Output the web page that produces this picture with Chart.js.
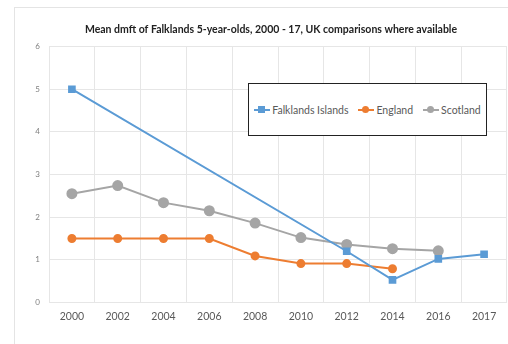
<!DOCTYPE html>
<html>
<head>
<meta charset="utf-8">
<script src="https://cdn.jsdelivr.net/npm/chart.js@4.4.1/dist/chart.umd.min.js"></script>
<style>
  html, body { margin: 0; padding: 0; background: #fff; overflow: hidden; }
  body { width: 508px; height: 344px; position: relative; font-family: Lato, "Open Sans", sans-serif; }
  #frame { position: absolute; left: 14px; top: 7px; width: 534px; height: 345px; border: 1px solid #e4e4e4; box-sizing: border-box; }
  #legend { position: absolute; left: 248px; top: 83px; width: 239px; height: 53px; border: 1.5px solid #222; box-sizing: border-box;
            display: flex; align-items: center; justify-content: center; gap: 10px; font-size: 10.5px; color: #595959; background: #fff; }
  .item { display: flex; align-items: center; }
  .sym { position: relative; width: 16px; height: 10px; margin-right: 2px; }
  .sym .ln { position: absolute; left: 0; right: 0; top: 4px; height: 2px; }
  .sym .mk { position: absolute; left: 4px; top: 1px; width: 7px; height: 7px; }
</style>
</head>
<body>
<div id="frame"><canvas id="chart"></canvas></div>
<div id="legend"></div>
<script>
// chart data
const years = ['2000', '2002', '2004', '2006', '2008', '2010', '2012', '2014', '2016', '2017'];
const falklands = [5.0, null, null, null, null, null, 1.2, 0.53, 1.02, 1.13];
const england = [1.5, 1.5, 1.5, 1.5, 1.09, 0.91, 0.91, 0.79, null, null];
const scotland = [2.55, 2.74, 2.34, 2.15, 1.86, 1.52, 1.36, 1.26, 1.21, null];
const yTicks = [0, 1, 2, 3, 4, 5, 6];

const series = [
  { label: 'Falklands Islands', data: falklands, color: '#5B9BD5', style: 'rect', radius: 4 },
  { label: 'England', data: england, color: '#ED7D31', style: 'circle', radius: 3.5 },
  { label: 'Scotland', data: scotland, color: '#A5A5A5', style: 'circle', radius: 4.5 }
];

const canvas = document.getElementById('chart');
canvas.width = 532;
canvas.height = 343;
canvas.style.width = '532px';
canvas.style.height = '343px';

new Chart(canvas, {
  type: 'line',
  data: {
    labels: years,
    datasets: series.map(s => ({
      label: s.label,
      data: s.data,
      borderColor: s.color,
      backgroundColor: s.color,
      borderWidth: 2,
      pointStyle: s.style,
      pointRadius: s.radius,
      pointHoverRadius: s.radius,
      spanGaps: true,
      tension: 0
    }))
  },
  options: {
    responsive: false,
    animation: false,
    layout: { padding: { left: 20, right: 40, top: 0, bottom: 20 } },
    plugins: {
      legend: { display: false },
      tooltip: { enabled: false },
      title: {
        display: true,
        text: 'Mean dmft of Falklands 5-year-olds, 2000 - 17, UK comparisons where available',
        color: '#222',
        font: { family: 'Lato', size: 10.5, weight: 'bold' },
        padding: { top: 15, bottom: 11 }
      }
    },
    scales: {
      x: {
        offset: true,
        grid: { offset: true, color: '#e6e6e6', drawTicks: false },
        border: { display: false },
        ticks: { color: '#595959', font: { family: 'Lato', size: 10.5 }, padding: 8, maxRotation: 0, autoSkip: false }
      },
      y: {
        min: 0,
        max: 6,
        afterBuildTicks: axis => { axis.ticks = yTicks.map(v => ({ value: v })); },
        grid: { color: '#e6e6e6', drawTicks: false },
        border: { display: false },
        ticks: { color: '#7f7f7f', font: { family: 'Lato', size: 8 }, padding: 9 },
        afterFit: axis => { axis.width = 14; }
      }
    }
  }
});

// legend box
const legend = document.getElementById('legend');
series.forEach(s => {
  const item = document.createElement('div');
  item.className = 'item';
  const sym = document.createElement('span');
  sym.className = 'sym';
  sym.innerHTML = '<span class="ln" style="background:' + s.color + '"></span>' +
    '<span class="mk" style="background:' + s.color + ';border-radius:' + (s.style === 'circle' ? '50%' : '0') + '"></span>';
  item.appendChild(sym);
  const txt = document.createElement('span');
  txt.textContent = s.label;
  item.appendChild(txt);
  legend.appendChild(item);
});
</script>
</body>
</html>
